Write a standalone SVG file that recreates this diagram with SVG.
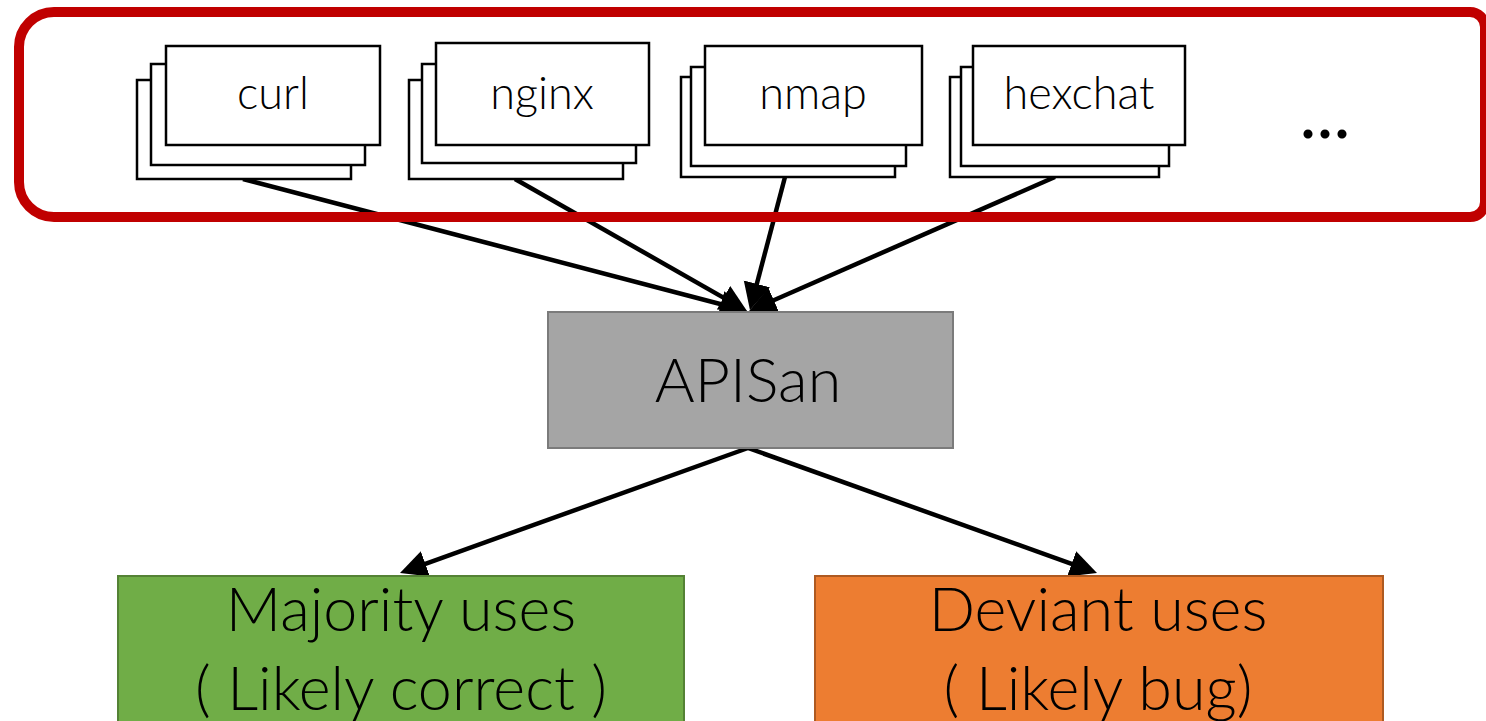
<svg xmlns="http://www.w3.org/2000/svg" width="1486" height="721" viewBox="0 0 1486 721">
<style>
.pg{fill:#ffffff;stroke:#000000;stroke-width:2.5}
.lbl{font-family:Lato,"Open Sans","Liberation Sans",sans-serif;font-weight:300;fill:#000000;text-anchor:middle}
.sm{font-size:45px}
.big{font-size:61px}
.edge{stroke:#000000;stroke-width:4.5;fill:none;marker-end:url(#ah)}
</style>
<defs>
<marker id="ah" markerUnits="userSpaceOnUse" markerWidth="30" markerHeight="30" refX="17" refY="13.5" orient="auto">
<path d="M0,0 L27,13.5 L0,27 Z" fill="#000000"/>
</marker>
</defs>
<rect width="1486" height="721" fill="#ffffff"/>

<g id="connectors">
<line class="edge" x1="243" y1="179" x2="737.3" y2="308.5"/>
<line class="edge" x1="515" y1="179" x2="738.3" y2="306.1"/>
<line class="edge" x1="785" y1="177" x2="752.5" y2="300.3"/>
<line class="edge" x1="1055" y1="177" x2="758.2" y2="307.0"/>
<line class="edge" x1="748" y1="448" x2="409.4" y2="569.6"/>
<line class="edge" x1="748" y1="448" x2="1087.6" y2="569.6"/>
</g>

<g id="group-box">
<path d="M54,12 H1470 A15,15 0 0 1 1485,27 V202 A15,15 0 0 1 1470,217 H54 A35,35 0 0 1 19,182 V47 A35,35 0 0 1 54,12 Z" fill="none" stroke="#c00000" stroke-width="10"/>
</g>

<g id="curl">
<rect class="pg" x="137" y="80" width="214" height="99"/>
<rect class="pg" x="151" y="64" width="214" height="101"/>
<rect class="pg" x="166" y="46" width="214" height="99"/>
<text class="lbl sm" x="273" y="109">curl</text>
</g>

<g id="nginx">
<rect class="pg" x="409" y="80" width="214" height="99"/>
<rect class="pg" x="422" y="64" width="214" height="99"/>
<rect class="pg" x="436" y="43" width="213" height="102"/>
<text class="lbl sm" x="542" y="109">nginx</text>
</g>

<g id="nmap">
<rect class="pg" x="681" y="77" width="214" height="100"/>
<rect class="pg" x="691" y="67" width="215" height="99"/>
<rect class="pg" x="705" y="46" width="217" height="99"/>
<text class="lbl sm" x="813" y="109">nmap</text>
</g>

<g id="hexchat">
<rect class="pg" x="950" y="77" width="209" height="100"/>
<rect class="pg" x="961" y="67" width="208" height="99"/>
<rect class="pg" x="973" y="46" width="212" height="99"/>
<text class="lbl sm" x="1079" y="109">hexchat</text>
</g>

<g id="more">
<text x="1325" y="138" font-family="Lato,'Liberation Sans',sans-serif" font-size="72" text-anchor="middle" fill="#000000">...</text>
</g>

<g id="apisan">
<rect x="548" y="312" width="405" height="136" fill="#a5a5a5" stroke="#7b7b7b" stroke-width="2"/>
<text class="lbl big" x="748" y="402">APISan</text>
</g>

<g id="majority">
<rect x="118" y="576" width="566" height="160" fill="#70ad47" stroke="#548235" stroke-width="2"/>
<text class="lbl big" x="401" y="631">Majority uses</text>
<text class="lbl big" x="401" y="710">( Likely correct )</text>
</g>

<g id="deviant">
<rect x="815" y="576" width="568" height="160" fill="#ed7d31" stroke="#ae5a21" stroke-width="2"/>
<text class="lbl big" x="1098" y="631">Deviant uses</text>
<text class="lbl big" x="1098" y="710">( Likely bug)</text>
</g>
</svg>
